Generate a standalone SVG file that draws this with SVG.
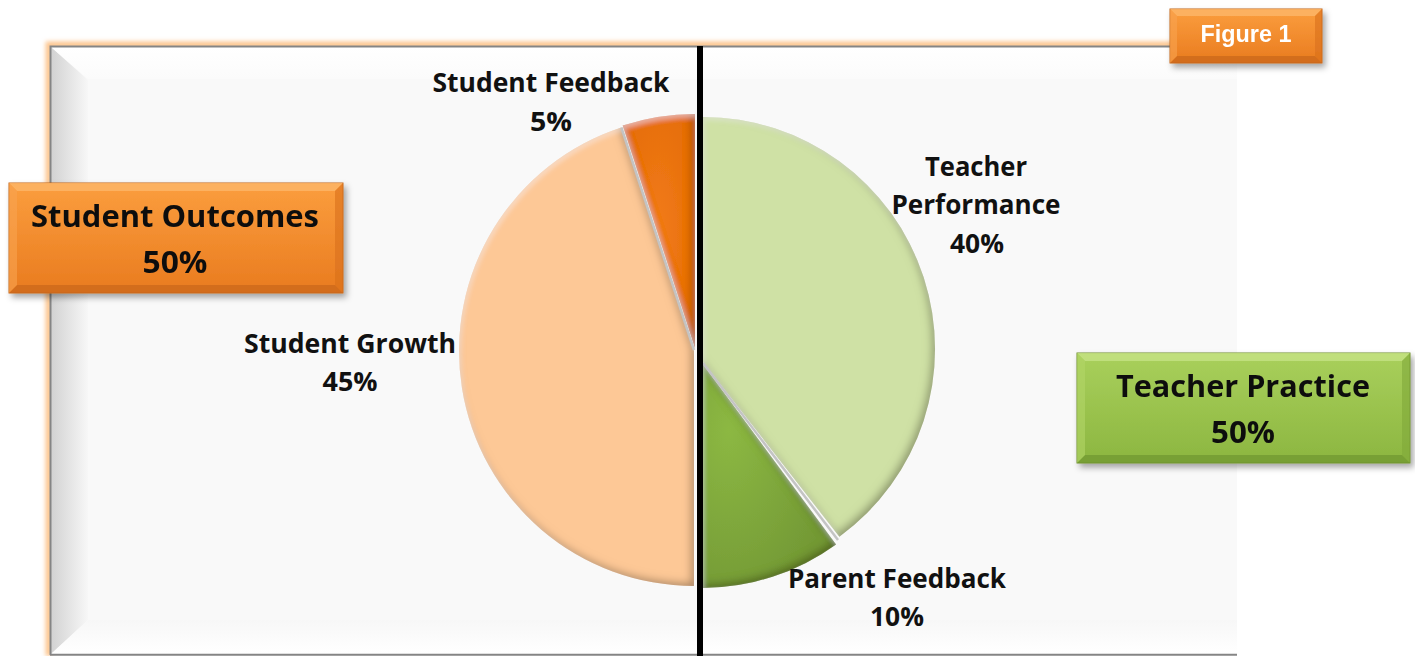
<svg xmlns="http://www.w3.org/2000/svg" width="1415" height="656" viewBox="0 0 1415 656">
<defs>
<style>
.lbl{font-family:"Open Sans","Liberation Sans",sans-serif;font-weight:bold;font-size:26px;fill:#111;text-anchor:middle}
.big{font-family:"Open Sans","Liberation Sans",sans-serif;font-weight:bold;font-size:31px;fill:#111;text-anchor:middle}
.fig{font-family:"Liberation Sans",Arial,sans-serif;font-weight:bold;font-size:23px;fill:#fff;text-anchor:middle}
.sep{stroke:#c4c4c4;stroke-width:2.5;fill:none}
</style>
<linearGradient id="leftBev" x1="0" y1="0" x2="1" y2="0">
<stop offset="0" stop-color="#d2d2d2"/><stop offset="1" stop-color="#f7f7f7"/>
</linearGradient>
<linearGradient id="topBev" x1="0" y1="0" x2="0" y2="1">
<stop offset="0" stop-color="#ffffff"/><stop offset="1" stop-color="#fbfbfb"/>
</linearGradient>
<linearGradient id="botBev" x1="0" y1="0" x2="0" y2="1">
<stop offset="0" stop-color="#f7f7f7"/><stop offset="1" stop-color="#ffffff"/>
</linearGradient>
<linearGradient id="orFace" x1="0" y1="0" x2="0" y2="1">
<stop offset="0" stop-color="#fb9e3e"/><stop offset="1" stop-color="#e97b1f"/>
</linearGradient>
<linearGradient id="grFace" x1="0" y1="0" x2="0" y2="1">
<stop offset="0" stop-color="#a9d05c"/><stop offset="1" stop-color="#8cb640"/>
</linearGradient>
<radialGradient id="sfFill" cx="0.5" cy="0.5" r="0.6">
<stop offset="0" stop-color="#f27b16"/><stop offset="1" stop-color="#e56d0c"/>
</radialGradient>
<radialGradient id="pfFill" cx="0.2" cy="0.3" r="0.8">
<stop offset="0" stop-color="#8cb843"/><stop offset="1" stop-color="#739935"/>
</radialGradient>
<filter id="bev" x="-10%" y="-10%" width="120%" height="120%">
<feComponentTransfer in="SourceAlpha" result="inv"><feFuncA type="table" tableValues="1 0"/></feComponentTransfer>
<feGaussianBlur in="inv" stdDeviation="4" result="blur"/>
<feOffset in="blur" dx="-3" dy="-3" result="o1"/>
<feFlood flood-color="#2a1a00" flood-opacity="0.6"/>
<feComposite in2="o1" operator="in" result="dark0"/>
<feComposite in="dark0" in2="SourceAlpha" operator="in" result="dark"/>
<feGaussianBlur in="inv" stdDeviation="2.5" result="blur2"/>
<feOffset in="blur2" dx="2" dy="3" result="o2"/>
<feFlood flood-color="#fff" flood-opacity="0.35"/>
<feComposite in2="o2" operator="in" result="lt0"/>
<feComposite in="lt0" in2="SourceAlpha" operator="in" result="lt"/>
<feMerge><feMergeNode in="SourceGraphic"/><feMergeNode in="dark"/><feMergeNode in="lt"/></feMerge>
</filter>
<filter id="shadow" x="-10%" y="-20%" width="130%" height="150%">
<feDropShadow dx="3" dy="4" stdDeviation="3" flood-color="#000" flood-opacity="0.35"/>
</filter>
<filter id="glow" x="-5%" y="-5%" width="110%" height="110%">
<feGaussianBlur stdDeviation="2"/>
</filter>
</defs>

<rect x="0" y="0" width="1415" height="656" fill="#fff"/>

<g id="frame">
<path d="M49,656 L49,45 L1250,45" fill="none" stroke="#fdc68f" stroke-width="7" filter="url(#glow)"/>
<rect x="50" y="46" width="1187" height="609" fill="#f9f9f9"/>
<polygon points="51,47 88,80 88,620 51,654" fill="url(#leftBev)"/>
<polygon points="51,47 1237,47 1237,79 88,79" fill="url(#topBev)"/>
<polygon points="51,654 88,620 1237,620 1237,654" fill="url(#botBev)"/>
<path d="M50.5,655 L50.5,46.5 L1250,46.5" fill="none" stroke="#858585" stroke-width="2"/>
<line x1="50" y1="654.8" x2="1237" y2="654.8" stroke="#858585" stroke-width="2"/>
</g>

<g id="pie">
<g id="slice-student-growth">
<path d="M694,351 L694,586 A235,235 0 0 1 621.4,127.5 Z" fill="#fdc896" filter="url(#bev)"/>
</g>
<g id="slice-student-feedback">
<path d="M695,348 L622.7,125.5 A234,234 0 0 1 695,114 Z" fill="url(#sfFill)" filter="url(#bev)"/>
</g>
<line class="sep" x1="621.4" y1="127.5" x2="694" y2="350"/>
<g id="slice-teacher-performance">
<path d="M703,362 L703,117 A232,232 0 0 1 839.4,536.7 Z" fill="#cfe1a5" filter="url(#bev)"/>
</g>
<g id="slice-parent-feedback">
<path d="M702,363 L836,544.5 A228,228 0 0 1 702,588 Z" fill="url(#pfFill)" filter="url(#bev)"/>
</g>
<line class="sep" x1="703" y1="363" x2="838" y2="540"/>
</g>

<g id="divider">
<line x1="700" y1="46" x2="700" y2="656" stroke="#000" stroke-width="6"/>
</g>

<g id="labels">
<text class="lbl" x="551" y="92" textLength="237" lengthAdjust="spacingAndGlyphs">Student Feedback</text>
<text class="lbl" x="551" y="131" textLength="42" lengthAdjust="spacingAndGlyphs">5%</text>
<text class="lbl" x="976" y="176" textLength="102" lengthAdjust="spacingAndGlyphs">Teacher</text>
<text class="lbl" x="976" y="214" textLength="169" lengthAdjust="spacingAndGlyphs">Performance</text>
<text class="lbl" x="977" y="253" textLength="54" lengthAdjust="spacingAndGlyphs">40%</text>
<text class="lbl" x="350" y="353" textLength="212" lengthAdjust="spacingAndGlyphs">Student Growth</text>
<text class="lbl" x="350" y="391" textLength="55" lengthAdjust="spacingAndGlyphs">45%</text>
<text class="lbl" x="897" y="588" textLength="218" lengthAdjust="spacingAndGlyphs">Parent Feedback</text>
<text class="lbl" x="897" y="626" textLength="54" lengthAdjust="spacingAndGlyphs">10%</text>
</g>

<g id="box-student-outcomes" filter="url(#shadow)">
<rect x="9" y="183" width="334" height="110" fill="url(#orFace)" stroke="#c4661b" stroke-width="1"/>
<polygon points="9,183 343,183 335,191 17,191" fill="#fdb66a" opacity="0.8"/>
<polygon points="9,293 343,293 335,285 17,285" fill="#c9661a" opacity="0.7"/>
<polygon points="343,183 343,293 335,285 335,191" fill="#d8701c" opacity="0.6"/>
<polygon points="9,183 9,293 17,285 17,191" fill="#f8a450" opacity="0.6"/>
<text class="big" x="175" y="227" textLength="288" lengthAdjust="spacingAndGlyphs">Student Outcomes</text>
<text class="big" x="175" y="273" textLength="65" lengthAdjust="spacingAndGlyphs">50%</text>
</g>

<g id="box-teacher-practice" filter="url(#shadow)">
<rect x="1077" y="353" width="333" height="110" fill="url(#grFace)" stroke="#6e8f2e" stroke-width="1"/>
<polygon points="1077,353 1410,353 1402,361 1085,361" fill="#c6e283" opacity="0.8"/>
<polygon points="1077,463 1410,463 1402,455 1085,455" fill="#6f952f" opacity="0.7"/>
<polygon points="1410,353 1410,463 1402,455 1402,361" fill="#80a83a" opacity="0.6"/>
<polygon points="1077,353 1077,463 1085,455 1085,361" fill="#b2d668" opacity="0.6"/>
<text class="big" x="1243" y="397" textLength="254" lengthAdjust="spacingAndGlyphs">Teacher Practice</text>
<text class="big" x="1243" y="443" textLength="64" lengthAdjust="spacingAndGlyphs">50%</text>
</g>

<g id="box-figure-1" filter="url(#shadow)">
<rect x="1170" y="9" width="152" height="54" fill="url(#orFace)" stroke="#c4661b" stroke-width="1"/>
<polygon points="1170,9 1322,9 1315,16 1177,16" fill="#fdb66a" opacity="0.8"/>
<polygon points="1170,63 1322,63 1315,56 1177,56" fill="#c9661a" opacity="0.7"/>
<polygon points="1322,9 1322,63 1315,56 1315,16" fill="#d8701c" opacity="0.6"/>
<polygon points="1170,9 1170,63 1177,56 1177,16" fill="#f8a450" opacity="0.6"/>
<text class="fig" x="1246" y="42" textLength="91" lengthAdjust="spacingAndGlyphs">Figure 1</text>
</g>
</svg>
